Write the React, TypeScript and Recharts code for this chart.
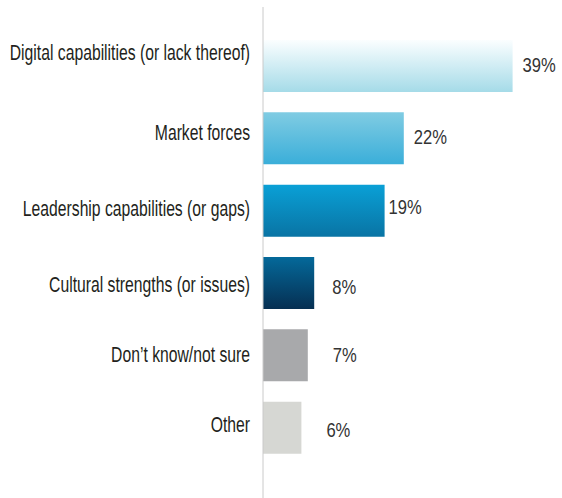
import { BarChart, Bar, XAxis, YAxis, Cell, LabelList } from 'recharts';

// survey answers, share of respondents (%)
const categories = [
  'Digital capabilities (or lack thereof)',
  'Market forces',
  'Leadership capabilities (or gaps)',
  'Cultural strengths (or issues)',
  'Don\u2019t know/not sure',
  'Other',
];
const shares = [39, 22, 19, 8, 7, 6];

const data = categories.map((name, i) => ({ name, value: shares[i] }));

// bar fills: gradients for the first four, flat greys for the last two
const gradients = [
  { id: 'g0', top: '#fbfeff', bottom: '#a5dbe8' },
  { id: 'g1', top: '#80cce3', bottom: '#3aaed9' },
  { id: 'g2', top: '#0aa0d6', bottom: '#0974a4' },
  { id: 'g3', top: '#04699a', bottom: '#062f52' },
];
const fills = ['url(#g0)', 'url(#g1)', 'url(#g2)', 'url(#g3)', '#a8a9ab', '#d6d7d3'];

// small hand nudges so the text sits where the original puts it
const tickNudge = [-14, -6, -3, 1, -1, -4];
const valueNudge = [
  { dx: 10, dy: -2 },
  { dx: 10, dy: -2 },
  { dx: 4, dy: -4 },
  { dx: 18, dy: 3 },
  { dx: 25, dy: -1 },
  { dx: 25, dy: 2 },
];

const FONT = "'Liberation Sans', Arial, sans-serif";

const CategoryTick = ({ x, y, payload, index }: any) => (
  <g transform={`translate(${x},${y + (tickNudge[index] ?? 0)})`}>
    <text
      transform="scale(0.715,1)"
      textAnchor="end"
      dy="0.36em"
      fill="#231f20"
      fontSize={22}
      fontFamily={FONT}
    >
      {payload.value}
    </text>
  </g>
);

const ValueLabel = ({ x, y, width, height, value, index }: any) => {
  const n = valueNudge[index] ?? { dx: 10, dy: 0 };
  return (
    <g transform={`translate(${x + width + n.dx},${y + height / 2 + n.dy})`}>
      <text
        transform="scale(0.79,1)"
        textAnchor="start"
        dy="0.36em"
        fill="#333333"
        fontSize={21}
        fontFamily={FONT}
      >
        {`${value}%`}
      </text>
    </g>
  );
};

export default function App() {
  return (
    <div style={{ position: 'absolute', left: 0, top: 0, background: '#fff' }}>
      <BarChart
        width={562}
        height={498}
        data={data}
        layout="vertical"
        margin={{ top: 7, right: 11, left: 0, bottom: 0 }}
      >
        <defs>
          {gradients.map((g) => (
            <linearGradient key={g.id} id={g.id} x1="0" y1="0" x2="0" y2="1">
              <stop offset="0%" stopColor={g.top} />
              <stop offset="100%" stopColor={g.bottom} />
            </linearGradient>
          ))}
        </defs>
        <XAxis type="number" domain={[0, 45]} hide />
        <YAxis
          type="category"
          dataKey="name"
          width={263}
          axisLine={{ stroke: '#cacaca', strokeWidth: 1 }}
          tickLine={false}
          tickSize={0}
          tickMargin={13}
          padding={{ top: 23, bottom: 34 }}
          tick={<CategoryTick />}
          interval={0}
        />
        <Bar dataKey="value" barSize={52} isAnimationActive={false}>
          {data.map((d, i) => (
            <Cell key={d.name} fill={fills[i]} />
          ))}
          <LabelList dataKey="value" content={<ValueLabel />} />
        </Bar>
      </BarChart>
    </div>
  );
}
